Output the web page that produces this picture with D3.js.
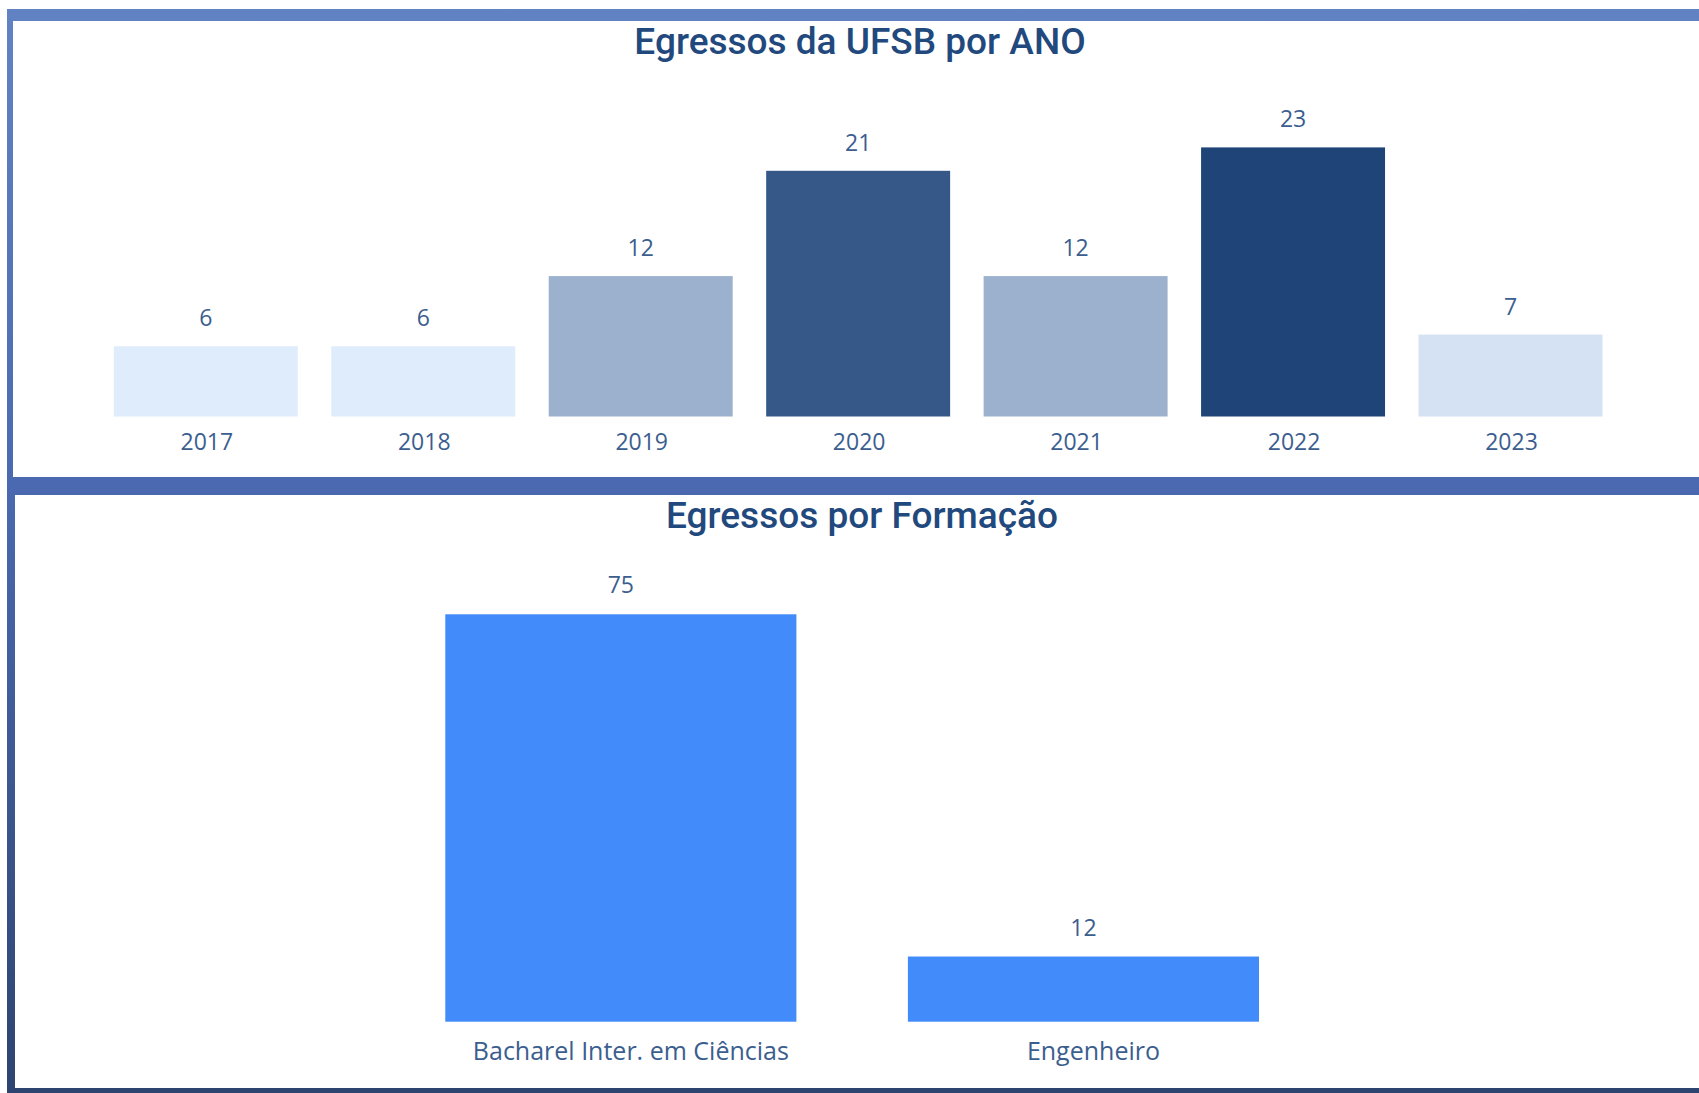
<!DOCTYPE html>
<html>
<head>
<meta charset="utf-8">
<script src="https://cdn.jsdelivr.net/npm/d3@7"></script>
<style>
    body { margin: 0; background: #fff; }
    .title { font-family: Roboto, "DejaVu Sans", sans-serif; font-weight: 500; font-size: 37px; fill: #22497d; }
    .label { font-family: "Open Sans", "Noto Sans", sans-serif; font-size: 23px; fill: #3b5e8f; }
    .axis text { font-family: "Open Sans", "Noto Sans", sans-serif; font-size: 23px; fill: #3b5e8f; }
    #formAxis text { font-size: 25px; }
</style>
</head>
<body>
<svg id="chart" width="1699" height="1093"></svg>
<script>
// dados
var anos = ["2017", "2018", "2019", "2020", "2021", "2022", "2023"];
var egressosAno = [6, 6, 12, 21, 12, 23, 7];

var formacoes = ["Bacharel Inter. em Ciências", "Engenheiro"];
var egressosFormacao = [75, 12];

var svg = d3.select("#chart");

//moldura com degrade
var defs = svg.append("defs");
var grad = defs.append("linearGradient")
    .attr("id", "frame")
    .attr("x1", 0).attr("y1", 0).attr("x2", 0).attr("y2", 1);
grad.append("stop").attr("offset", "0%").attr("stop-color", "#6283c3");
grad.append("stop").attr("offset", "44%").attr("stop-color", "#4a69b0");
grad.append("stop").attr("offset", "100%").attr("stop-color", "#2e4470");

svg.append("rect")
    .attr("x", 7).attr("y", 9)
    .attr("width", 1692).attr("height", 1084)
    .attr("fill", "url(#frame)");

svg.append("rect")
    .attr("x", 13).attr("y", 21)
    .attr("width", 1686).attr("height", 456)
    .attr("fill", "#fff");

svg.append("rect")
    .attr("x", 15).attr("y", 495)
    .attr("width", 1684).attr("height", 593)
    .attr("fill", "#fff");

//GRAFICO POR ANO
var top_g = svg.append("g");

top_g.append("text")
    .attr("class", "title")
    .attr("x", 860).attr("y", 54)
    .attr("text-anchor", "middle")
    .text("Egressos da UFSB por ANO");

var xAno = d3.scaleBand()
    .domain(anos)
    .range([113.8, 1602.5])
    .paddingInner(0.154)
    .paddingOuter(0);

var yAno = d3.scaleLinear()
    .domain([0, d3.max(egressosAno)])
    .range([416.5, 147.4]);

// cor pelo valor (gradiente do power bi)
var corAno = d3.scaleLinear()
    .domain([d3.min(egressosAno), d3.max(egressosAno)])
    .range(["#dfecfc", "#1f4478"]);

top_g.selectAll("rect.bar")
    .data(anos)
    .enter()
    .append("rect")
    .attr("class", "bar")
    .attr("x", (d) => xAno(d))
    .attr("width", xAno.bandwidth())
    .attr("y", (d, i) => yAno(egressosAno[i]))
    .attr("height", (d, i) => yAno(0) - yAno(egressosAno[i]))
    .attr("fill", (d, i) => corAno(egressosAno[i]));

top_g.selectAll("text.label")
    .data(anos)
    .enter()
    .append("text")
    .attr("class", "label")
    .attr("x", (d) => xAno(d) + xAno.bandwidth() / 2)
    .attr("y", (d, i) => yAno(egressosAno[i]) - 20)
    .attr("text-anchor", "middle")
    .text((d, i) => egressosAno[i]);

top_g.append("g")
    .attr("class", "axis")
    .attr("transform", `translate(1, ${yAno(0)})`)
    .call(d3.axisBottom(xAno).tickSize(0).tickPadding(17))
    .call((g) => g.select(".domain").remove());

//GRAFICO POR FORMACAO
var bot_g = svg.append("g");

bot_g.append("text")
    .attr("class", "title")
    .attr("x", 862).attr("y", 528)
    .attr("text-anchor", "middle")
    .text("Egressos por Formação");

var xForm = d3.scaleBand()
    .domain(formacoes)
    .range([445.3, 1259])
    .paddingInner(0.241)
    .paddingOuter(0);

var yForm = d3.scaleLinear()
    .domain([0, d3.max(egressosFormacao)])
    .range([1021.7, 614.3]);

bot_g.selectAll("rect.bar")
    .data(formacoes)
    .enter()
    .append("rect")
    .attr("class", "bar")
    .attr("x", (d) => xForm(d))
    .attr("width", xForm.bandwidth())
    .attr("y", (d, i) => yForm(egressosFormacao[i]))
    .attr("height", (d, i) => yForm(0) - yForm(egressosFormacao[i]))
    .attr("fill", "#418bfa");

bot_g.selectAll("text.label")
    .data(formacoes)
    .enter()
    .append("text")
    .attr("class", "label")
    .attr("x", (d) => xForm(d) + xForm.bandwidth() / 2)
    .attr("y", (d, i) => yForm(egressosFormacao[i]) - 21)
    .attr("text-anchor", "middle")
    .text((d, i) => egressosFormacao[i]);

bot_g.append("g")
    .attr("class", "axis")
    .attr("id", "formAxis")
    .attr("transform", `translate(10, ${yForm(0)})`)
    .call(d3.axisBottom(xForm).tickSize(0).tickPadding(21))
    .call((g) => g.select(".domain").remove());
</script>
</body>
</html>
